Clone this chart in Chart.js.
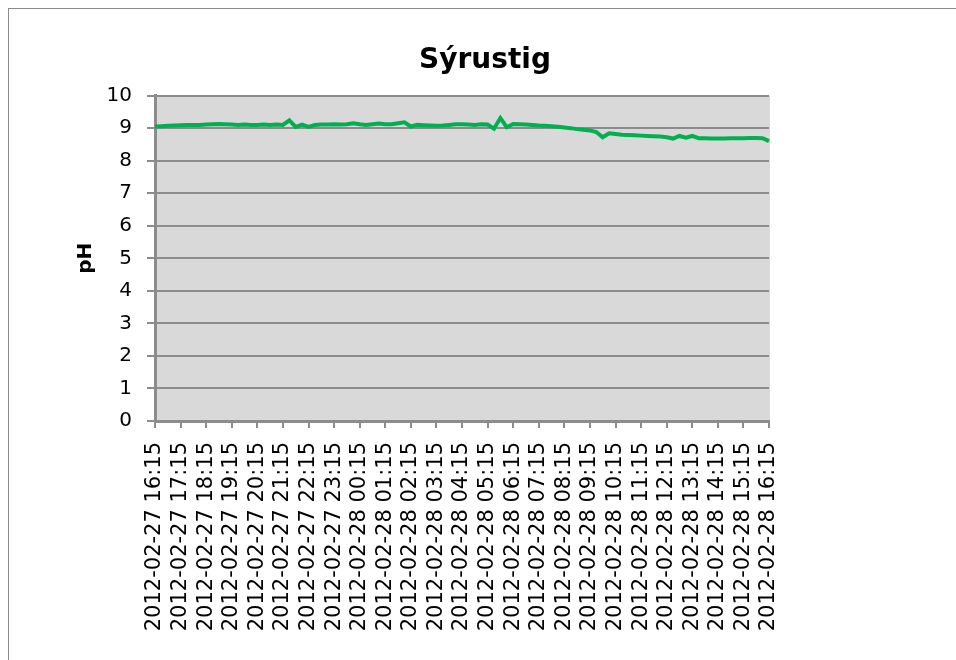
<!DOCTYPE html>
<html>
<head>
<meta charset="utf-8">
<script src="https://cdn.jsdelivr.net/npm/chart.js@4"></script>
<style>
    html, body { margin: 0; padding: 0; background: #fff; overflow: hidden; }
    #frame {
        position: absolute; left: 8px; top: 8px;
        width: 980px; height: 700px;
        border: 1px solid #8c8c8c;
    }
    #wrap { position: absolute; left: 9px; top: 9px; width: 950px; height: 651px; }
</style>
</head>
<body>
<div id="frame"></div>
<div id="wrap"><canvas id="phChart"></canvas></div>
<script>
// -----------------------------
// DATA
// -----------------------------
const chartTitle = "Sýrustig";
const yAxisTitle = "pH";
const startTime = "2012-02-27 16:15";   // first reading
const stepMinutes = 15;                  // one reading every 15 min
const labelEvery = 4;                    // axis shows one label per hour

const phValues = [
    9.05, 9.06, 9.07, 9.08, 9.09, 9.10, 9.10, 9.10, 9.11, 9.12,
    9.13, 9.12, 9.11, 9.10, 9.11, 9.10, 9.10, 9.11, 9.10, 9.11,
    9.10, 9.24, 9.04, 9.11, 9.04, 9.10, 9.11, 9.11, 9.12, 9.11,
    9.12, 9.15, 9.12, 9.10, 9.12, 9.14, 9.12, 9.12, 9.15, 9.18,
    9.05, 9.10, 9.09, 9.08, 9.07, 9.08, 9.10, 9.12, 9.12, 9.11,
    9.10, 9.12, 9.11, 8.98, 9.31, 9.03, 9.13, 9.12, 9.11, 9.10,
    9.08, 9.07, 9.06, 9.04, 9.02, 9.00, 8.97, 8.95, 8.93, 8.88,
    8.72, 8.84, 8.82, 8.80, 8.79, 8.78, 8.77, 8.76, 8.75, 8.74,
    8.72, 8.68, 8.76, 8.71, 8.76, 8.69, 8.69, 8.68, 8.68, 8.68,
    8.69, 8.69, 8.69, 8.70, 8.70, 8.69, 8.60
];

const yTicks = [0, 1, 2, 3, 4, 5, 6, 7, 8, 9, 10];

// time stamps for each reading
const pad = (n) => String(n).padStart(2, "0");
const t0 = new Date(startTime.replace(" ", "T") + ":00Z");
const timeLabels = phValues.map((_, i) => {
    const d = new Date(t0.getTime() + i * stepMinutes * 60000);
    return d.getUTCFullYear() + "-" + pad(d.getUTCMonth() + 1) + "-" + pad(d.getUTCDate()) +
        " " + pad(d.getUTCHours()) + ":" + pad(d.getUTCMinutes());
});

// -----------------------------
// PLOT AREA BACKGROUND
// -----------------------------
const plotBg = {
    id: "plotBg",
    beforeDraw(chart) {
        const { ctx, chartArea: a } = chart;
        ctx.save();
        ctx.fillStyle = "#d9d9d9";
        ctx.fillRect(a.left, a.top, a.right - a.left + 1, a.bottom - a.top);
        ctx.restore();
    }
};

new Chart(document.getElementById("phChart").getContext("2d"), {
    type: "line",
    data: {
        labels: timeLabels,
        datasets: [{
            label: yAxisTitle,
            data: phValues,
            borderColor: "#00b050",
            borderWidth: 4,
            pointRadius: 0,
            tension: 0,
            fill: false
        }]
    },
    options: {
        responsive: true,
        maintainAspectRatio: false,
        animation: false,
        layout: { padding: { left: 61, right: 59, top: 0, bottom: 0 } },
        plugins: {
            legend: { display: false },
            tooltip: { enabled: false },
            title: {
                display: true,
                text: chartTitle,
                color: "#000",
                font: { family: "DejaVu Sans", size: 28, weight: "bold" },
                padding: { top: 35, bottom: 18 }
            }
        },
        scales: {
            x: {
                offset: false,
                afterFit(scale) { scale.height = 239; },
                // only the hourly ticks are kept (others have no label)
                grid: {
                    drawOnChartArea: false,
                    drawTicks: true,
                    tickLength: 7,
                    lineWidth: 2,
                    color: "#8c8c8c"
                },
                border: { color: "#8c8c8c", width: 3 },
                ticks: {
                    autoSkip: false,
                    minRotation: 90,
                    maxRotation: 90,
                    padding: 14,
                    color: "#000",
                    font: { family: "DejaVu Sans", size: 21 },
                    callback(val, i) {
                        return i % labelEvery === 0 ? this.getLabelForValue(val) : null;
                    }
                }
            },
            y: {
                min: yTicks[0],
                max: yTicks[yTicks.length - 1],
                afterFit(scale) { scale.width = 85; },
                afterBuildTicks(scale) { scale.ticks = yTicks.map((v) => ({ value: v })); },
                grid: {
                    color: "#8c8c8c",
                    lineWidth: 2,
                    tickLength: 8
                },
                border: { color: "#8c8c8c", width: 3 },
                ticks: {
                    padding: 15,
                    color: "#000",
                    font: { family: "DejaVu Sans", size: 20 }
                },
                title: {
                    display: true,
                    text: yAxisTitle,
                    color: "#000",
                    font: { family: "DejaVu Sans", size: 20, weight: "bold" },
                    padding: { top: 4, bottom: 4 }
                }
            },
            // empty space on the right, keeps the title centred on the frame
            spacer: {
                type: "linear",
                position: "right",
                display: true,
                afterFit(scale) { scale.width = 131; },
                grid: { display: false },
                border: { display: false },
                ticks: { display: false }
            }
        }
    },
    plugins: [plotBg]
});
</script>
</body>
</html>
